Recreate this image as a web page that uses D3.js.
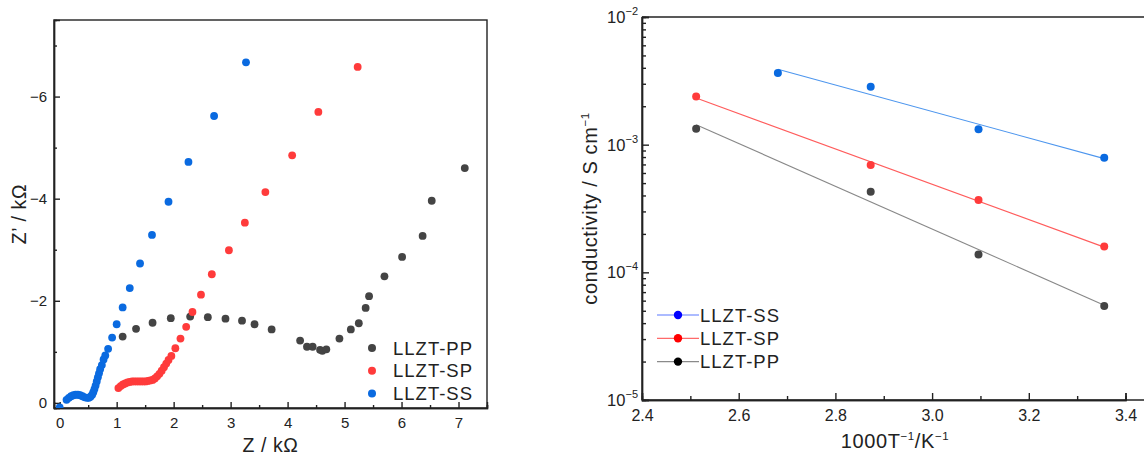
<!DOCTYPE html>
<html><head><meta charset="utf-8">
<script src="https://cdn.jsdelivr.net/npm/d3@7"></script>
<style>
body{margin:0;background:#fff}
svg{display:block}
text{font-family:"Liberation Sans",Arial,sans-serif;fill:#222}
.ax path,.ax line{stroke:#222;stroke-width:1.4}
</style>
</head><body><svg id="c" width="1144" height="455"></svg>
<script>
// ---- Left: Nyquist plot data (Z / kΩ, -Z'' / kΩ) ----
const ppRe=[1.105,1.34,1.63,1.95,2.29,2.60,2.91,3.20,3.42,3.72,4.22,4.34,4.44,4.57,4.61,4.68,4.91,5.11,5.25,5.37,5.43,5.70,6.01,6.37,6.53,7.11];
const ppIm=[1.30,1.45,1.57,1.66,1.69,1.68,1.65,1.61,1.54,1.44,1.22,1.10,1.10,1.04,1.02,1.05,1.26,1.44,1.56,1.86,2.09,2.48,2.86,3.27,3.96,4.60];
const spRe=[1.03,1.07,1.11,1.15,1.19,1.23,1.27,1.31,1.35,1.39,1.43,1.47,1.51,1.55,1.59,1.63,1.67,1.71,1.75,1.79,1.83,1.87,1.91,1.96,2.03,2.12,2.22,2.33,2.48,2.67,2.97,3.25,3.61,4.08,4.54,5.23];
const spIm=[0.29,0.33,0.36,0.38,0.40,0.41,0.42,0.42,0.42,0.42,0.42,0.42,0.42,0.43,0.44,0.45,0.48,0.52,0.57,0.63,0.70,0.77,0.84,0.92,1.07,1.26,1.49,1.78,2.12,2.52,2.99,3.53,4.13,4.85,5.70,6.58];
const ssRe=[0.0,0.12,0.16,0.20,0.24,0.28,0.32,0.36,0.40,0.44,0.48,0.51,0.54,0.57,0.59,0.61,0.63,0.65,0.67,0.69,0.71,0.74,0.77,0.80,0.85,0.92,1.00,1.105,1.23,1.41,1.62,1.91,2.26,2.71,3.27];
const ssIm=[-0.09,0.06,0.10,0.13,0.15,0.16,0.16,0.15,0.13,0.11,0.10,0.10,0.12,0.16,0.21,0.27,0.34,0.42,0.50,0.58,0.66,0.74,0.85,0.93,1.06,1.28,1.54,1.87,2.25,2.73,3.29,3.94,4.72,5.62,6.67];
const nyqXTicks=[0,1,2,3,4,5,6,7];
const nyqYTicks=[0,2,4,6];
const nyqLegend=["LLZT-PP","LLZT-SP","LLZT-SS"];

// ---- Right: Arrhenius plot data ----
const ssInvT=[2.681,2.873,3.096,3.356];
const ssSigma=[3.64e-3,2.84e-3,1.32e-3,7.9e-4];
const spInvT=[2.512,2.873,3.096,3.356];
const spSigma=[2.38e-3,6.93e-4,3.69e-4,1.59e-4];
const ppInvT=[2.512,2.873,3.096,3.356];
const ppSigma=[1.33e-3,4.27e-4,1.38e-4,5.45e-5];
const arrXTicks=[2.4,2.6,2.8,3.0,3.2,3.4];
const arrYExp=[-2,-3,-4,-5];
const arrLegend=["LLZT-SS","LLZT-SP","LLZT-PP"];

const svg=d3.select("#c");
const C={pp:"#444444",sp:"#ff3b3b",ss:"#0a6ae0"};

// ================= LEFT CHART =================
{
  const L=54,R=487,T=20,B=408;
  const x=d3.scaleLinear().domain([-0.1,7.5]).range([L,R]);
  const y=d3.scaleLinear().domain([-0.1,7.5]).range([B,T]);
  const g=svg.append("g");
  g.append("clipPath").attr("id","clipL").append("rect").attr("x",L).attr("y",T).attr("width",R-L).attr("height",B-T);
  g.append("rect").attr("x",L).attr("y",T).attr("width",R-L).attr("height",B-T).attr("fill","none").attr("stroke","#222").attr("stroke-width",1.4);
  g.append("g").attr("class","ax").attr("transform",`translate(0,${B})`)
    .call(d3.axisBottom(x).tickValues(nyqXTicks).tickSize(-6).tickPadding(9).tickFormat(d3.format("d")));
  g.append("g").attr("class","ax").attr("transform",`translate(0,${B})`)
    .call(d3.axisBottom(x).tickValues(nyqXTicks.map(d=>d+0.5)).tickSize(-3).tickFormat(""));
  g.append("g").attr("class","ax").attr("transform",`translate(${L},0)`)
    .call(d3.axisLeft(y).tickValues(nyqYTicks).tickSize(-6).tickPadding(7).tickFormat(d=>d===0?"0":"\u2212"+d));
  g.append("g").attr("class","ax").attr("transform",`translate(${L},0)`)
    .call(d3.axisLeft(y).tickValues([1,3,5,7]).tickSize(-3).tickFormat(""));
  g.selectAll(".ax .domain").attr("stroke","none");
  g.selectAll(".ax text").attr("font-size",15).attr("fill","#222").attr("font-family","Liberation Sans, Arial, sans-serif");
  const series=[[ppRe,ppIm,C.pp],[spRe,spIm,C.sp],[ssRe,ssIm,C.ss]];
  const pg=g.append("g").attr("clip-path","url(#clipL)");
  series.forEach(([re,im,col])=>{
    pg.selectAll(null).data(re.map((d,i)=>[d,im[i]])).enter().append("circle")
      .attr("cx",d=>x(d[0])).attr("cy",d=>y(d[1])).attr("r",3.9).attr("fill",col);
  });
  g.append("text").attr("x",(L+R)/2).attr("y",452).attr("text-anchor","middle").attr("font-size",19.5).attr("letter-spacing",0.6).text("Z / k\u03A9");
  g.append("text").attr("transform",`translate(26,${(T+B)/2}) rotate(-90)`).attr("text-anchor","middle").attr("font-size",19.5).attr("letter-spacing",0.6).text("Z\u2019 / k\u03A9");
  const lc=[C.pp,C.sp,C.ss];
  nyqLegend.forEach((t,i)=>{
    const yy=348+i*22.8;
    g.append("circle").attr("cx",372).attr("cy",yy).attr("r",4).attr("fill",lc[i]);
    g.append("text").attr("x",393).attr("y",yy+6.5).attr("font-size",18.5).attr("letter-spacing",1).text(t);
  });
}

// ================= RIGHT CHART =================
{
  const L=642,T=17,B=400;
  const x=d3.scaleLinear().domain([2.4,3.4]).range([L,1125.5]);
  const y=d3.scaleLog().domain([1e-5,1e-2]).range([B,T]);
  const g=svg.append("g");
  g.append("line").attr("x1",L).attr("x2",1144).attr("y1",T).attr("y2",T).attr("stroke","#222").attr("stroke-width",1.4);
  g.append("line").attr("x1",L).attr("x2",1144).attr("y1",B).attr("y2",B).attr("stroke","#222").attr("stroke-width",1.4);
  g.append("line").attr("x1",L).attr("x2",L).attr("y1",T).attr("y2",B).attr("stroke","#222").attr("stroke-width",1.4);
  g.append("g").attr("class","ax").attr("transform",`translate(0,${B})`)
    .call(d3.axisBottom(x).tickValues(arrXTicks).tickSize(-7).tickPadding(10).tickFormat(d3.format(".1f")));
  g.append("g").attr("class","ax").attr("transform",`translate(0,${B})`)
    .call(d3.axisBottom(x).tickValues([2.5,2.7,2.9,3.1,3.3]).tickSize(-4).tickFormat(""));
  g.append("g").attr("class","ax").attr("transform",`translate(${L},0)`)
    .call(d3.axisLeft(y).tickValues(arrYExp.map(e=>Math.pow(10,e))).tickSize(-7).tickFormat(""));
  const minors=[];
  [-5,-4,-3].forEach(e=>{for(let k=2;k<=9;k++)minors.push(k*Math.pow(10,e));});
  g.append("g").attr("class","ax").attr("transform",`translate(${L},0)`)
    .call(d3.axisLeft(y).tickValues(minors).tickSize(-4).tickFormat(""));
  g.selectAll(".ax .domain").attr("stroke","none");
  g.selectAll(".ax text").attr("font-size",16).attr("fill","#222").attr("font-family","Liberation Sans, Arial, sans-serif");
  arrYExp.forEach(e=>{
    const t=g.append("text").attr("x",L-4).attr("y",y(Math.pow(10,e))+6).attr("text-anchor","end").attr("font-size",16.5);
    t.append("tspan").text("10");
    t.append("tspan").attr("font-size",11).attr("dy",-8).text("\u2212"+(-e));
  });
  const sets=[[ppInvT,ppSigma,"#444444","#888888"],[spInvT,spSigma,"#ff3b3b","#ff5c5c"],[ssInvT,ssSigma,"#0a6ae0","#4d96ee"]];
  sets.forEach(([xs,ss,pc,lc])=>{
    const ly=ss.map(Math.log10);
    const mx=d3.mean(xs),my=d3.mean(ly);
    const sl=d3.sum(xs,(d,i)=>(d-mx)*(ly[i]-my))/d3.sum(xs,d=>(d-mx)*(d-mx));
    const x0=d3.min(xs),x1=d3.max(xs);
    const f=v=>Math.pow(10,my+sl*(v-mx));
    g.append("line").attr("x1",x(x0)).attr("y1",y(f(x0))).attr("x2",x(x1)).attr("y2",y(f(x1))).attr("stroke",lc).attr("stroke-width",1.1);
    g.selectAll(null).data(xs.map((d,i)=>[d,ss[i]])).enter().append("circle")
      .attr("cx",d=>x(d[0])).attr("cy",d=>y(d[1])).attr("r",4).attr("fill",pc);
  });
  const lcol=["#5a78ff","#ff6a6a","#8a8a8a"], mcol=["#0000ff","#ff0000","#000000"];
  arrLegend.forEach((t,i)=>{
    const yy=315+i*23.3;
    g.append("line").attr("x1",657).attr("x2",699).attr("y1",yy).attr("y2",yy).attr("stroke",lcol[i]).attr("stroke-width",1.2);
    g.append("circle").attr("cx",678).attr("cy",yy).attr("r",4.2).attr("fill",mcol[i]);
    g.append("text").attr("x",700).attr("y",yy+6.5).attr("font-size",18.5).attr("letter-spacing",1).text(t);
  });
  const xt=g.append("text").attr("x",895).attr("y",448).attr("text-anchor","middle").attr("font-size",20).attr("letter-spacing",0.6);
  xt.append("tspan").text("1000T");
  xt.append("tspan").attr("font-size",11.5).attr("dy",-8).text("\u22121");
  xt.append("tspan").attr("dy",8).text("/K");
  xt.append("tspan").attr("font-size",11.5).attr("dy",-8).text("\u22121");
  const yt=g.append("text").attr("transform",`translate(597,${(T+B)/2}) rotate(-90)`).attr("text-anchor","middle").attr("font-size",20).attr("letter-spacing",0.6);
  yt.append("tspan").text("conductivity  /  S cm");
  yt.append("tspan").attr("font-size",11.5).attr("dy",-8).text("\u22121");
}
</script>
</body></html>
